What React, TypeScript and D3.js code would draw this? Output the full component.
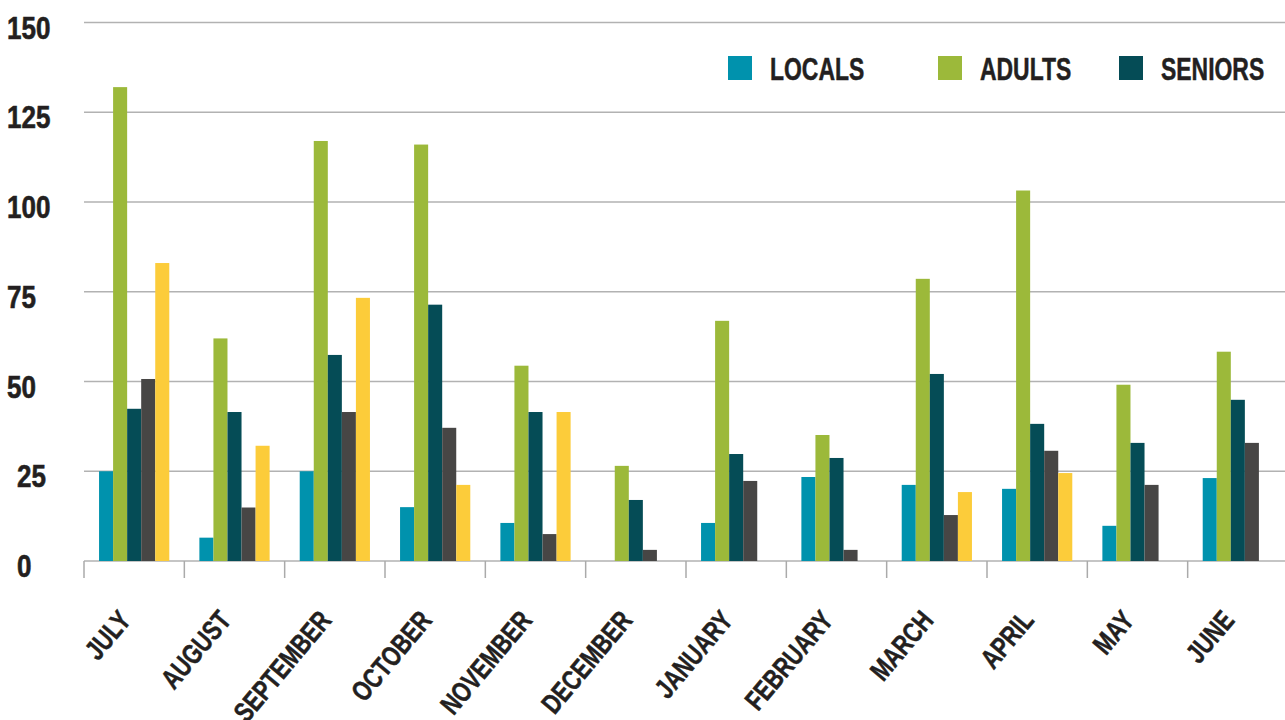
import { scaleBand, scaleLinear } from "d3";

const months = [
  "JULY",
  "AUGUST",
  "SEPTEMBER",
  "OCTOBER",
  "NOVEMBER",
  "DECEMBER",
  "JANUARY",
  "FEBRUARY",
  "MARCH",
  "APRIL",
  "MAY",
  "JUNE",
];

const locals = [25, 6.5, 25, 15, 10.6, 0, 10.6, 23.4, 21.2, 20.1, 9.8, 23.1];
const adults = [132, 62, 117, 116, 54.4, 26.5, 66.9, 35.1, 78.6, 103.2, 49.1, 58.3];
const seniors = [42.4, 41.5, 57.4, 71.4, 41.5, 17, 29.8, 28.7, 52.1, 38.2, 32.9, 44.9];
const groupD = [50.7, 14.9, 41.5, 37.1, 7.5, 3.1, 22.3, 3.1, 12.8, 30.7, 21.2, 32.9];
const groupE = [83, 32.1, 73.3, 21.2, 41.5, 0, 0, 0, 19.2, 24.5, 0, 0];

const yTicks = [0, 25, 50, 75, 100, 125, 150];

const series = [
  { key: "LOCALS", values: locals, color: "#0092ad", legend: true },
  { key: "ADULTS", values: adults, color: "#9cb93a", legend: true },
  { key: "SENIORS", values: seniors, color: "#054c56", legend: true },
  { key: "D", values: groupD, color: "#474645", legend: false },
  { key: "E", values: groupE, color: "#fccc3a", legend: false },
];

// no condensed Helvetica here, so squeeze Liberation Sans Bold sideways
const FONT = "'Liberation Sans', Arial, sans-serif";
const INK = "#231f20";

export default function App() {
  const width = 1285;
  const height = 720;
  const left = 84;
  const right = 1288;
  const top = 22.5;
  const bottom = 561;

  const x = scaleBand<string>().domain(months).range([left, right]).padding(0);
  const bw = x.bandwidth();
  const inner = scaleBand<string>()
    .domain(series.map((s) => s.key))
    .range([bw * 0.15, bw * 0.85]);
  const y = scaleLinear().domain([0, 150]).range([bottom, top]);

  const legendX = [728, 938, 1119];

  return (
    <svg
      width={width}
      height={height}
      style={{ position: "absolute", left: 0, top: 0, background: "#fff" }}
      fontFamily={FONT}
      fontWeight="bold"
    >
      {/* gridlines */}
      {yTicks.map((t) => (
        <line key={t} x1={left} x2={width} y1={y(t)} y2={y(t)} stroke="#b2b2b2" strokeWidth={1.6} />
      ))}

      {/* y labels */}
      {yTicks.map((t) => (
        <text
          key={t}
          transform={`translate(${t < 50 ? 17 : 7},${y(t) + 16}) scale(0.84,1)`}
          fontSize={31}
          fill={INK}
          stroke={INK}
          strokeWidth={0.6}
        >
          {t}
        </text>
      ))}

      {/* bars */}
      {months.map((m, i) => (
        <g key={m} transform={`translate(${x(m)},0)`}>
          {series.map((s) =>
            s.values[i] > 0 ? (
              <rect
                key={s.key}
                x={inner(s.key)}
                y={y(s.values[i])}
                width={inner.bandwidth()}
                height={bottom - y(s.values[i])}
                fill={s.color}
              />
            ) : null
          )}
        </g>
      ))}

      {/* category ticks */}
      {months.map((m) => (
        <line key={m} x1={x(m)} x2={x(m)} y1={bottom} y2={bottom + 17} stroke="#aaaaaa" strokeWidth={1.5} />
      ))}

      {/* x labels */}
      {months.map((m) => {
        const cx = (x(m) ?? 0) + bw / 2 - 2;
        const cy = 621;
        return (
          <text
            key={m}
            fontSize={28}
            fill={INK}
            stroke={INK}
            strokeWidth={0.5}
            textAnchor="end"
            transform={`translate(${cx},${cy}) rotate(-50) scale(0.77,1)`}
          >
            {m}
          </text>
        );
      })}

      {/* legend */}
      {series
        .filter((s) => s.legend)
        .map((s, i) => (
          <g key={s.key} transform={`translate(${legendX[i]},56)`}>
            <rect width={24} height={24} fill={s.color} />
            <text
              transform="translate(42,24) scale(0.74,1)"
              fontSize={31}
              fill={INK}
              stroke={INK}
              strokeWidth={0.5}
            >
              {s.key}
            </text>
          </g>
        ))}
    </svg>
  );
}
